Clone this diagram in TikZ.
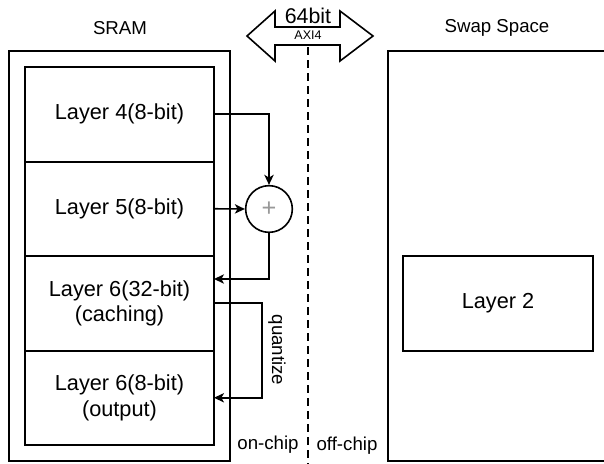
\documentclass[tikz,border=0pt]{standalone}
\usepackage{fontspec}
\setmainfont{Liberation Sans}
\usepackage{xcolor}
\usetikzlibrary{arrows.meta}

\tikzset{
  box/.style={draw, line width=1.5pt, outer sep=0pt, inner sep=0.75pt, anchor=north west},
  cell/.style={box, minimum width=141.75pt, minimum height=70.9pt, align=center, font=\fontsize{16.3}{19.1}\selectfont},
  lbl/.style={inner sep=0.75pt, font=\fontsize{14}{17}\selectfont},
  conn/.style={line width=1.2pt, -{Stealth[length=7.5pt,width=7pt,inset=2pt]}},
}

\begin{document}
\begin{tikzpicture}[x=0.75pt,y=0.75pt,yscale=-1,xscale=1]
				\useasboundingbox (0,0) rectangle (604,464);
				% memory blocks
				\node (sram) [box, minimum width=165.75pt, minimum height=307.5pt] at (9,51) {};
				\node (l4) [cell] at (25,67) {Layer 4(8-bit)};
				\node (l5) [cell] at (25,161.5) {Layer 5(8-bit)};
				\node (l6c) [cell] at (25,256) {Layer 6(32-bit)\\(caching)};
				\node (l6o) [cell] at (25,350.5) {Layer 6(8-bit)\\(output)};
				\node (swap) [box, minimum width=168pt, minimum height=307.5pt] at (388,51) {};
				\node (l2) [cell, minimum width=142.5pt, minimum height=71.25pt] at (403,256) {Layer 2};
				\node (sum) [draw, circle, line width=1.2pt, minimum size=35pt, inner sep=0pt, text=gray!80, font=\fontsize{19}{21}\selectfont] at (269,209) {+};
				% connectors
				\draw [conn] (l4.east) -| (sum.north);
				\draw [conn] (l5.east) -- (sum.west);
				\draw [conn] (sum.south) |- ([yshift=-18.2pt]l6c.east);
				\draw [conn] (l6c.east) -- ++(48,0) |- (l6o.east);
				% bus
				\draw [line width=1.2pt] (247,36) -- (275,11) -- (275,27) -- (340,27) -- (340,11) -- (373,36) -- (340,61) -- (340,45) -- (275,45) -- (275,61) -- cycle;
				\draw [line width=1.5pt, dash pattern=on 6pt off 3.75pt] (308,47) -- (308,464);
				% labels
				\node (bw) [inner sep=0.75pt, font=\fontsize{16}{19}\selectfont] at (308,16) {64bit};
				\node (axi) [inner sep=0.75pt, font=\fontsize{9.4}{11}\selectfont] at (308,35) {AXI4};
				\node (sramlbl) [lbl] at (120,28) {SRAM};
				\node (swaplbl) [lbl] at (497,28) {Swap Space};
				\node (quant) [lbl, rotate=-90] at (277,350) {quantize};
				\node (onchip) [lbl] at (268,445) {on-chip};
				\node (offchip) [lbl] at (347,446) {off-chip};
\end{tikzpicture}
\end{document}
